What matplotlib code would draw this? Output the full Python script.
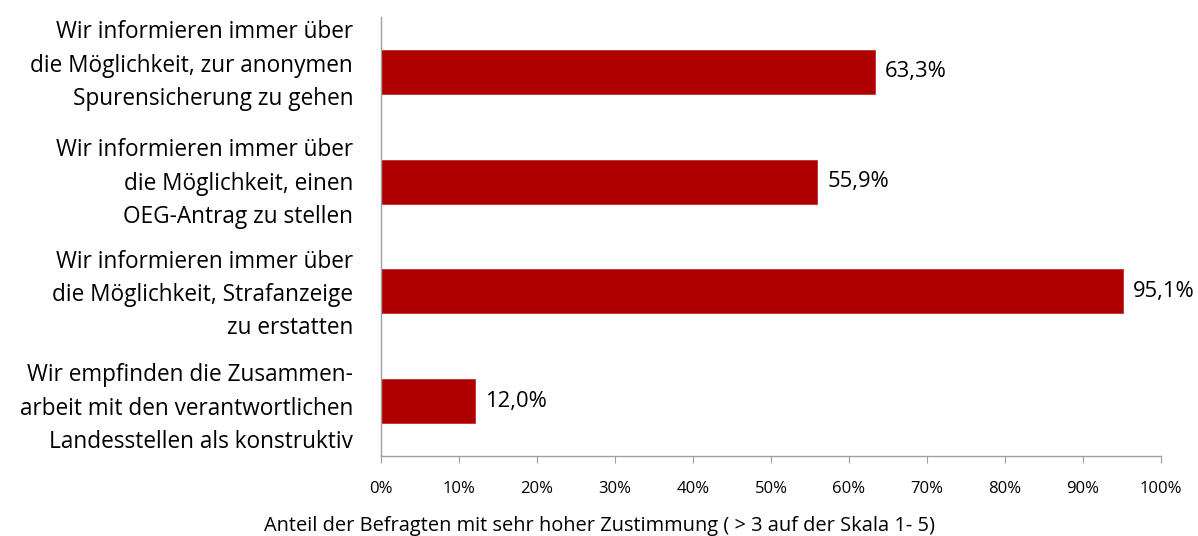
import matplotlib
matplotlib.use("Agg")
import matplotlib.pyplot as plt
import matplotlib.transforms as mtransforms
from matplotlib.ticker import PercentFormatter

categories = [
    "Wir informieren immer über\ndie Möglichkeit, zur anonymen\nSpurensicherung zu gehen",
    "Wir informieren immer über\ndie Möglichkeit, einen\nOEG-Antrag zu stellen",
    "Wir informieren immer über\ndie Möglichkeit, Strafanzeige\nzu erstatten",
    "Wir empfinden die Zusammen-\narbeit mit den verantwortlichen\nLandesstellen als konstruktiv",
]
values = [63.3, 55.9, 95.1, 12.0]
value_labels = ["63,3%", "55,9%", "95,1%", "12,0%"]
xlabel = "Anteil der Befragten mit sehr hoher Zustimmung ( > 3 auf der Skala 1- 5)"

plt.rcParams['font.family'] = ['Open Sans', 'DejaVu Sans']

fig = plt.figure(figsize=(11.98, 5.36), dpi=100)
ax = fig.add_axes([381/1198, 1-456/536, (1161-381)/1198, (456-17)/536])

y = list(range(len(categories)))
ax.barh(y, values, height=0.4, color="#AE0000", edgecolor="#C03030", linewidth=0.6)
ax.set_ylim(len(categories)-0.5, -0.5)
ax.set_xlim(0, 100)
ax.set_yticks(y)
ax.set_yticklabels(categories, fontsize=16.3, linespacing=1.52)
ax.tick_params(axis='y', length=0, pad=20)
ax.set_xticks(range(0, 101, 10))
ax.xaxis.set_major_formatter(PercentFormatter(decimals=0))
ax.tick_params(axis='x', length=5, color="#A0A0A0", labelsize=12, pad=13)

# small vertical nudges of the category labels (layout, in points)
label_shift_pt = [10, 4, 3, 0]
for lbl, dy in zip(ax.get_yticklabels(), label_shift_pt):
    lbl.set_transform(lbl.get_transform() +
                      mtransforms.ScaledTranslation(0, dy/72, fig.dpi_scale_trans))

for v, lab, yi in zip(values, value_labels, y):
    ax.text(v + 1.3, yi, lab, va='center', ha='left', fontsize=15.8)

for s in ['top', 'right']:
    ax.spines[s].set_visible(False)
for s in ['left', 'bottom']:
    ax.spines[s].set_color("#A0A0A0")
    ax.spines[s].set_linewidth(1)

fig.text(0.5, 1-526/536, xlabel, ha='center', va='center', fontsize=14.4)

fig.savefig("out.png", dpi=100)
